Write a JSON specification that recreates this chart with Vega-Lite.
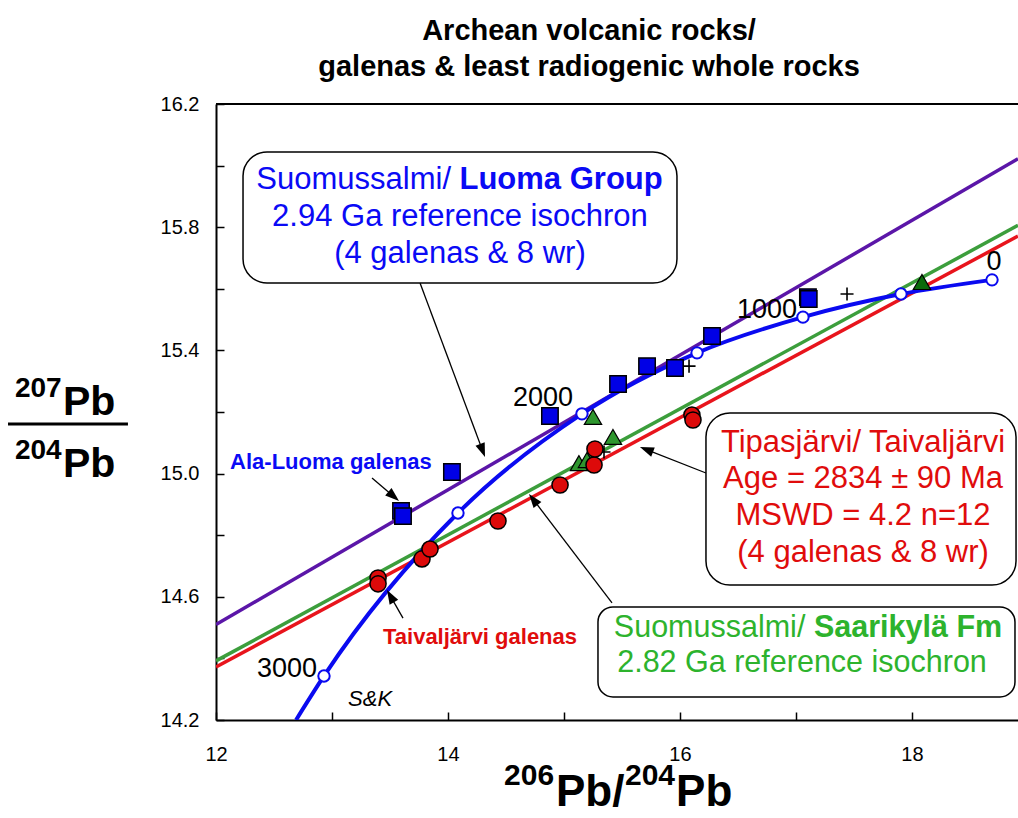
{
  "$schema": "https://vega.github.io/schema/vega-lite/v6.json",
  "width": 802,
  "height": 616,
  "autosize": {"type": "none"},
  "padding": {"left": 216, "top": 104, "right": 0, "bottom": 98},
  "background": "white",
  "config": {
    "view": {"stroke": null},
    "font": "Liberation Sans",
    "axis": {"grid": false, "domainColor": "black", "domainWidth": 2, "tickColor": "black", "tickWidth": 1.5, "labelColor": "black", "labelFont": "Liberation Sans", "labelFontSize": 20}
  },
  "title": {
    "text": ["Archean volcanic rocks/", "galenas & least radiogenic whole rocks"],
    "fontSize": 29, "fontWeight": "bold", "font": "Liberation Sans", "color": "black",
    "anchor": "middle", "frame": "group", "dx": -28, "offset": 12, "lineHeight": 36
  },
  "datasets": {
    "isochrons": [
      {"iso": "Luoma Group 2.94 Ga", "x": 12, "y": 14.51},
      {"iso": "Luoma Group 2.94 Ga", "x": 18.914, "y": 16.022},
      {"iso": "Saarikylä Fm 2.82 Ga", "x": 12, "y": 14.392},
      {"iso": "Saarikylä Fm 2.82 Ga", "x": 18.914, "y": 15.806},
      {"iso": "Tipasjärvi/Taivaljärvi 2834 Ma", "x": 12, "y": 14.372},
      {"iso": "Tipasjärvi/Taivaljärvi 2834 Ma", "x": 18.914, "y": 15.771}
    ],
    "sk": [
      {"x": 12.69, "y": 14.2, "age": null},
      {"x": 12.931, "y": 14.343, "age": 3000},
      {"x": 14.086, "y": 14.872, "age": 2500},
      {"x": 15.155, "y": 15.194, "age": 2000},
      {"x": 16.147, "y": 15.392, "age": 1500},
      {"x": 17.06, "y": 15.508, "age": 1000},
      {"x": 17.905, "y": 15.583, "age": 500},
      {"x": 18.69, "y": 15.629, "age": 0}
    ],
    "luoma": [
      {"x": 13.595, "y": 14.879},
      {"x": 13.612, "y": 14.862},
      {"x": 14.034, "y": 15.005},
      {"x": 14.879, "y": 15.187},
      {"x": 15.466, "y": 15.291},
      {"x": 15.716, "y": 15.349},
      {"x": 15.957, "y": 15.343},
      {"x": 16.276, "y": 15.447},
      {"x": 17.103, "y": 15.573},
      {"x": 17.11, "y": 15.567}
    ],
    "tipas": [
      {"x": 13.397, "y": 14.661},
      {"x": 13.397, "y": 14.642},
      {"x": 13.776, "y": 14.723},
      {"x": 13.845, "y": 14.755},
      {"x": 14.431, "y": 14.846},
      {"x": 14.966, "y": 14.963},
      {"x": 15.259, "y": 15.028},
      {"x": 15.267, "y": 15.08},
      {"x": 16.103, "y": 15.19},
      {"x": 16.112, "y": 15.174}
    ],
    "saari": [
      {"x": 15.129, "y": 15.034, "lot": "a"},
      {"x": 15.198, "y": 15.044, "lot": "a"},
      {"x": 15.25, "y": 15.184, "lot": "a"},
      {"x": 15.422, "y": 15.119, "lot": "a"},
      {"x": 18.086, "y": 15.622, "lot": "b"}
    ],
    "other": [
      {"x": 17.44, "y": 15.583},
      {"x": 16.078, "y": 15.349},
      {"x": 15.345, "y": 15.07}
    ],
    "boxes": [
      {"box": "luoma", "x": 12.233, "x2": 15.974, "y": 16.044, "y2": 15.619},
      {"box": "tipas", "x": 16.224, "x2": 18.897, "y": 15.197, "y2": 14.638},
      {"box": "saari", "x": 15.293, "x2": 18.888, "y": 14.567, "y2": 14.275}
    ],
    "arrows": [
      {"x": 13.759, "y": 15.619, "x2": 14.298, "y2": 15.075, "heading": 159.5},
      {"x": 13.345, "y": 14.986, "x2": 13.532, "y2": 14.926, "heading": 130.4},
      {"x": 13.612, "y": 14.531, "x2": 13.504, "y2": 14.602, "heading": 330.3},
      {"x": 16.224, "y": 15.002, "x2": 15.711, "y2": 15.078, "heading": 291.5},
      {"x": 15.414, "y": 14.58, "x2": 14.735, "y2": 14.916, "heading": 322.7}
    ],
    "frac": [
      {"x": 10.207, "x2": 11.241, "y": 15.161}
    ],
    "notes": [
      {"kind": "luoma_r", "text": "Suomussalmi/", "x": 14.026, "y": 15.924},
      {"kind": "luoma_b", "text": "Luoma Group", "x": 14.099, "y": 15.924},
      {"kind": "luoma_c", "text": "2.94 Ga reference isochron", "x": 14.103, "y": 15.804},
      {"kind": "luoma_c", "text": "(4 galenas & 8 wr)", "x": 14.103, "y": 15.684},
      {"kind": "tipas", "text": "Tipasjärvi/ Taivaljärvi", "x": 17.578, "y": 15.07},
      {"kind": "tipas", "text": "Age = 2834 ± 90 Ma", "x": 17.578, "y": 14.953},
      {"kind": "tipas", "text": "MSWD = 4.2 n=12", "x": 17.578, "y": 14.833},
      {"kind": "tipas", "text": "(4 galenas & 8 wr)", "x": 17.578, "y": 14.713},
      {"kind": "saari_r", "text": "Suomussalmi/", "x": 17.081, "y": 14.469},
      {"kind": "saari_b", "text": "Saarikylä Fm", "x": 17.155, "y": 14.469},
      {"kind": "saari_c", "text": "2.82 Ga reference isochron", "x": 17.052, "y": 14.356},
      {"kind": "ala", "text": "Ala-Luoma galenas", "x": 12.991, "y": 15.015},
      {"kind": "taival", "text": "Taivaljärvi galenas", "x": 14.276, "y": 14.447},
      {"kind": "age", "text": "3000", "x": 12.612, "y": 14.34},
      {"kind": "age", "text": "2000", "x": 14.819, "y": 15.219},
      {"kind": "age", "text": "1000", "x": 16.75, "y": 15.505},
      {"kind": "age", "text": "0", "x": 18.707, "y": 15.661},
      {"kind": "sk", "text": "S&K", "x": 13.328, "y": 14.245},
      {"kind": "ysup", "text": "207", "x": 10.267, "y": 15.249},
      {"kind": "ypb", "text": "Pb", "x": 10.681, "y": 15.19},
      {"kind": "ysup", "text": "204", "x": 10.267, "y": 15.047},
      {"kind": "ypb", "text": "Pb", "x": 10.681, "y": 14.989},
      {"kind": "xsup", "text": "206", "x": 14.483, "y": 13.989},
      {"kind": "xpb", "text": "Pb/", "x": 14.931, "y": 13.9208},
      {"kind": "xsup", "text": "204", "x": 15.526, "y": 13.989},
      {"kind": "xpb", "text": "Pb", "x": 15.966, "y": 13.9208}
    ]
  },
  "layer": [
    {
      "data": {"name": "isochrons"},
      "mark": {"type": "line", "strokeWidth": 3.5, "clip": true},
      "encoding": {
        "x": {"field": "x", "type": "quantitative", "scale": {"domain": [12, 18.914], "nice": false, "zero": false},
          "axis": {"title": null, "values": [12, 13, 14, 15, 16, 17, 18], "labelExpr": "datum.value % 2 === 0 ? format(datum.value, 'd') : ''", "tickSize": -8, "labelPadding": 32, "labelFlush": false}},
        "y": {"field": "y", "type": "quantitative", "scale": {"domain": [14.2, 16.2], "nice": false, "zero": false},
          "axis": {"title": null,
            "values": [14.2, 14.4, 14.6, 14.8, 15.0, 15.2, 15.4, 15.6, 15.8, 16.0, 16.2],
            "labelExpr": "indexof(['14.2','14.6','15.0','15.4','15.8','16.2'], format(datum.value, '.1f')) >= 0 ? format(datum.value, '.1f') : ''",
            "tickSize": -8, "labelPadding": 25, "labelFlush": false}},
        "color": {"field": "iso", "type": "nominal", "legend": null,
          "scale": {"domain": ["Luoma Group 2.94 Ga", "Saarikylä Fm 2.82 Ga", "Tipasjärvi/Taivaljärvi 2834 Ma"], "range": ["#5b16a8", "#3c9e3c", "#e8141c"]}},
        "detail": {"field": "iso"}
      }
    },
    {
      "data": {"name": "frac"},
      "mark": {"type": "rule", "color": "black", "strokeWidth": 3},
      "encoding": {"x": {"field": "x", "type": "quantitative"}, "x2": {"field": "x2"}, "y": {"field": "y", "type": "quantitative"}}
    },
    {
      "data": {"values": [{}]},
      "mark": {"type": "rule", "color": "black", "strokeWidth": 2},
      "encoding": {"y": {"datum": 16.2, "type": "quantitative"}}
    },
    {
      "data": {"name": "sk"},
      "mark": {"type": "line", "color": "#0a0af0", "strokeWidth": 4, "interpolate": "monotone", "clip": true},
      "encoding": {"x": {"field": "x", "type": "quantitative"}, "y": {"field": "y", "type": "quantitative"}, "order": {"field": "x", "type": "quantitative"}}
    },
    {
      "data": {"name": "arrows"},
      "mark": {"type": "rule", "color": "black", "strokeWidth": 1.3},
      "encoding": {"x": {"field": "x", "type": "quantitative"}, "y": {"field": "y", "type": "quantitative"}, "x2": {"field": "x2"}, "y2": {"field": "y2"}}
    },
    {
      "data": {"name": "arrows"},
      "mark": {"type": "point", "shape": "M0,-1L0.7,1L-0.7,1Z", "filled": true, "color": "black", "size": 196, "opacity": 1},
      "encoding": {"x": {"field": "x2", "type": "quantitative"}, "y": {"field": "y2", "type": "quantitative"}, "angle": {"field": "heading", "type": "quantitative", "scale": null}}
    },
    {
      "data": {"name": "sk"},
      "transform": [{"filter": "datum.age != null"}],
      "mark": {"type": "point", "shape": "circle", "filled": true, "fill": "white", "stroke": "#0a0af0", "strokeWidth": 2, "size": 130, "opacity": 1},
      "encoding": {"x": {"field": "x", "type": "quantitative"}, "y": {"field": "y", "type": "quantitative"}}
    },
    {
      "data": {"name": "other"},
      "mark": {"type": "point", "shape": "M-1,0L1,0M0,-1L0,1", "filled": false, "stroke": "black", "strokeWidth": 1.6, "size": 170, "opacity": 1},
      "encoding": {"x": {"field": "x", "type": "quantitative"}, "y": {"field": "y", "type": "quantitative"}}
    },
    {
      "data": {"name": "saari"},
      "transform": [{"filter": "datum.lot == 'a'"}],
      "mark": {"type": "point", "shape": "triangle-up", "filled": true, "fill": "#2e962e", "stroke": "black", "strokeWidth": 1.2, "size": 300, "opacity": 1},
      "encoding": {"x": {"field": "x", "type": "quantitative"}, "y": {"field": "y", "type": "quantitative"}}
    },
    {
      "data": {"name": "saari"},
      "transform": [{"filter": "datum.lot == 'b'"}],
      "mark": {"type": "point", "shape": "triangle-up", "filled": true, "fill": "#0b6b0b", "stroke": "black", "strokeWidth": 1.2, "size": 300, "opacity": 1},
      "encoding": {"x": {"field": "x", "type": "quantitative"}, "y": {"field": "y", "type": "quantitative"}}
    },
    {
      "data": {"name": "luoma"},
      "mark": {"type": "point", "shape": "square", "filled": true, "fill": "#0000e6", "stroke": "black", "strokeWidth": 1.5, "size": 270, "opacity": 1},
      "encoding": {"x": {"field": "x", "type": "quantitative"}, "y": {"field": "y", "type": "quantitative"}}
    },
    {
      "data": {"name": "tipas"},
      "mark": {"type": "point", "shape": "circle", "filled": true, "fill": "#dd0a0a", "stroke": "black", "strokeWidth": 1.5, "size": 260, "opacity": 1},
      "encoding": {"x": {"field": "x", "type": "quantitative"}, "y": {"field": "y", "type": "quantitative"}}
    },
    {
      "data": {"name": "boxes"},
      "transform": [{"filter": "datum.box != 'saari'"}],
      "mark": {"type": "rect", "fill": "white", "stroke": "black", "strokeWidth": 1.5, "cornerRadius": 24},
      "encoding": {"x": {"field": "x", "type": "quantitative"}, "x2": {"field": "x2"}, "y": {"field": "y", "type": "quantitative"}, "y2": {"field": "y2"}}
    },
    {
      "data": {"name": "boxes"},
      "transform": [{"filter": "datum.box == 'saari'"}],
      "mark": {"type": "rect", "fill": "white", "stroke": "black", "strokeWidth": 1.5, "cornerRadius": 15},
      "encoding": {"x": {"field": "x", "type": "quantitative"}, "x2": {"field": "x2"}, "y": {"field": "y", "type": "quantitative"}, "y2": {"field": "y2"}}
    },
    {
      "data": {"name": "notes"},
      "transform": [{"filter": "datum.kind == 'luoma_r'"}],
      "mark": {"type": "text", "align": "right", "baseline": "alphabetic", "fontSize": 31, "color": "#0a0af5"},
      "encoding": {"x": {"field": "x", "type": "quantitative"}, "y": {"field": "y", "type": "quantitative"}, "text": {"field": "text"}}
    },
    {
      "data": {"name": "notes"},
      "transform": [{"filter": "datum.kind == 'luoma_b'"}],
      "mark": {"type": "text", "align": "left", "baseline": "alphabetic", "fontSize": 31, "fontWeight": "bold", "color": "#0a0af5"},
      "encoding": {"x": {"field": "x", "type": "quantitative"}, "y": {"field": "y", "type": "quantitative"}, "text": {"field": "text"}}
    },
    {
      "data": {"name": "notes"},
      "transform": [{"filter": "datum.kind == 'luoma_c'"}],
      "mark": {"type": "text", "align": "center", "baseline": "alphabetic", "fontSize": 31, "color": "#0a0af5"},
      "encoding": {"x": {"field": "x", "type": "quantitative"}, "y": {"field": "y", "type": "quantitative"}, "text": {"field": "text"}}
    },
    {
      "data": {"name": "notes"},
      "transform": [{"filter": "datum.kind == 'tipas'"}],
      "mark": {"type": "text", "align": "center", "baseline": "alphabetic", "fontSize": 31, "color": "#e00c0c"},
      "encoding": {"x": {"field": "x", "type": "quantitative"}, "y": {"field": "y", "type": "quantitative"}, "text": {"field": "text"}}
    },
    {
      "data": {"name": "notes"},
      "transform": [{"filter": "datum.kind == 'saari_r'"}],
      "mark": {"type": "text", "align": "right", "baseline": "alphabetic", "fontSize": 30.5, "color": "#2db32d"},
      "encoding": {"x": {"field": "x", "type": "quantitative"}, "y": {"field": "y", "type": "quantitative"}, "text": {"field": "text"}}
    },
    {
      "data": {"name": "notes"},
      "transform": [{"filter": "datum.kind == 'saari_b'"}],
      "mark": {"type": "text", "align": "left", "baseline": "alphabetic", "fontSize": 30.5, "fontWeight": "bold", "color": "#2db32d"},
      "encoding": {"x": {"field": "x", "type": "quantitative"}, "y": {"field": "y", "type": "quantitative"}, "text": {"field": "text"}}
    },
    {
      "data": {"name": "notes"},
      "transform": [{"filter": "datum.kind == 'saari_c'"}],
      "mark": {"type": "text", "align": "center", "baseline": "alphabetic", "fontSize": 30.5, "color": "#2db32d"},
      "encoding": {"x": {"field": "x", "type": "quantitative"}, "y": {"field": "y", "type": "quantitative"}, "text": {"field": "text"}}
    },
    {
      "data": {"name": "notes"},
      "transform": [{"filter": "datum.kind == 'ala'"}],
      "mark": {"type": "text", "align": "center", "baseline": "alphabetic", "fontSize": 22, "fontWeight": "bold", "color": "#0a0af5"},
      "encoding": {"x": {"field": "x", "type": "quantitative"}, "y": {"field": "y", "type": "quantitative"}, "text": {"field": "text"}}
    },
    {
      "data": {"name": "notes"},
      "transform": [{"filter": "datum.kind == 'taival'"}],
      "mark": {"type": "text", "align": "center", "baseline": "alphabetic", "fontSize": 22, "fontWeight": "bold", "color": "#e00c0c"},
      "encoding": {"x": {"field": "x", "type": "quantitative"}, "y": {"field": "y", "type": "quantitative"}, "text": {"field": "text"}}
    },
    {
      "data": {"name": "notes"},
      "transform": [{"filter": "datum.kind == 'age'"}],
      "mark": {"type": "text", "align": "center", "baseline": "alphabetic", "fontSize": 27, "color": "black"},
      "encoding": {"x": {"field": "x", "type": "quantitative"}, "y": {"field": "y", "type": "quantitative"}, "text": {"field": "text"}}
    },
    {
      "data": {"name": "notes"},
      "transform": [{"filter": "datum.kind == 'sk'"}],
      "mark": {"type": "text", "align": "center", "baseline": "alphabetic", "fontSize": 22, "fontStyle": "italic", "color": "black"},
      "encoding": {"x": {"field": "x", "type": "quantitative"}, "y": {"field": "y", "type": "quantitative"}, "text": {"field": "text"}}
    },
    {
      "data": {"name": "notes"},
      "transform": [{"filter": "datum.kind == 'ysup'"}],
      "mark": {"type": "text", "align": "left", "baseline": "alphabetic", "fontSize": 28, "fontWeight": "bold", "color": "black"},
      "encoding": {"x": {"field": "x", "type": "quantitative"}, "y": {"field": "y", "type": "quantitative"}, "text": {"field": "text"}}
    },
    {
      "data": {"name": "notes"},
      "transform": [{"filter": "datum.kind == 'ypb'"}],
      "mark": {"type": "text", "align": "left", "baseline": "alphabetic", "fontSize": 41, "fontWeight": "bold", "color": "black"},
      "encoding": {"x": {"field": "x", "type": "quantitative"}, "y": {"field": "y", "type": "quantitative"}, "text": {"field": "text"}}
    },
    {
      "data": {"name": "notes"},
      "transform": [{"filter": "datum.kind == 'xsup'"}],
      "mark": {"type": "text", "align": "left", "baseline": "alphabetic", "fontSize": 30, "fontWeight": "bold", "color": "black"},
      "encoding": {"x": {"field": "x", "type": "quantitative"}, "y": {"field": "y", "type": "quantitative"}, "text": {"field": "text"}}
    },
    {
      "data": {"name": "notes"},
      "transform": [{"filter": "datum.kind == 'xpb'"}],
      "mark": {"type": "text", "align": "left", "baseline": "alphabetic", "fontSize": 44, "fontWeight": "bold", "color": "black"},
      "encoding": {"x": {"field": "x", "type": "quantitative"}, "y": {"field": "y", "type": "quantitative"}, "text": {"field": "text"}}
    }
  ]
}
